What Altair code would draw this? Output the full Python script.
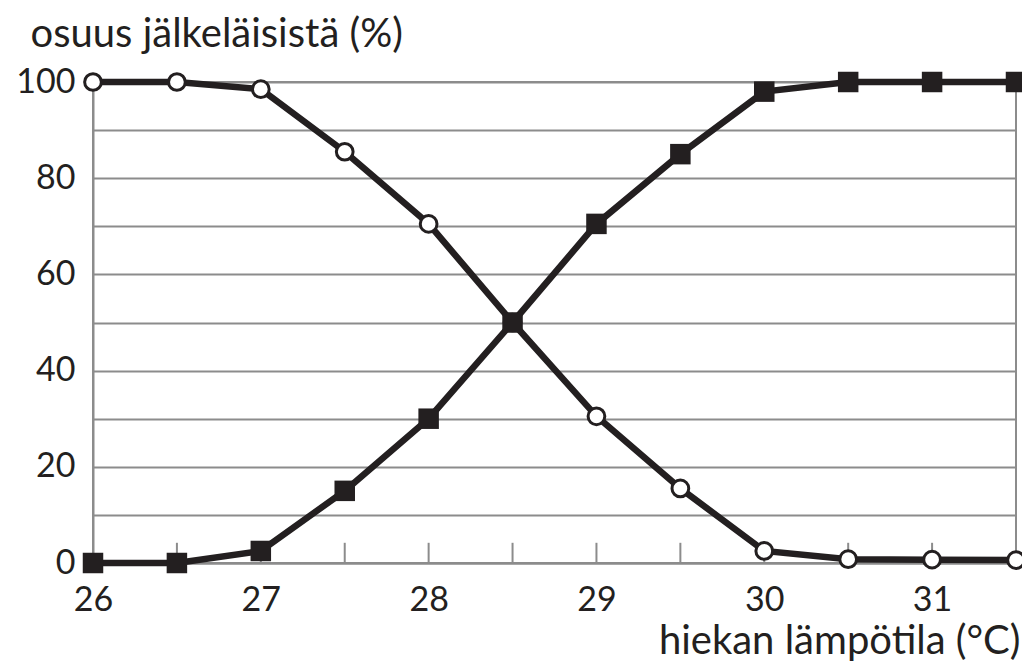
import altair as alt
import pandas as pd

# --- data ---
temps = [26, 26.5, 27, 27.5, 28, 28.5, 29, 29.5, 30, 30.5, 31, 31.5]
share_circles = [100, 100, 98.5, 85.5, 70.5, 50, 30.5, 15.5, 2.5, 0.8, 0.7, 0.6]
share_squares = [0, 0, 2.5, 15, 30, 50, 70.5, 85, 98, 100, 100, 100]
x_label_values = [26, 27, 28, 29, 30, 31]
x_minor_ticks = [26.5, 27, 27.5, 28, 28.5, 29, 29.5, 30, 30.5, 31, 31.5]
y_grid_values = [0, 10, 20, 30, 40, 50, 60, 70, 80, 90, 100]

FONT = "Lato"
INK = "#231f20"
GRID = "#8c8c8c"

df = pd.DataFrame({
    "t": temps + temps,
    "v": share_circles + share_squares,
    "s": ["ympyrä"] * len(temps) + ["neliö"] * len(temps),
})
ticks_df = pd.DataFrame({"t": x_minor_ticks, "v": [0] * len(x_minor_ticks), "v2": [4.2] * len(x_minor_ticks)})

xscale = alt.Scale(domain=[26, 31.5], nice=False, zero=False)
yscale = alt.Scale(domain=[0, 100], nice=False)

x_axis = alt.Axis(
    values=x_label_values, grid=False, ticks=False,
    domainColor=GRID, domainWidth=2,
    labelFont=FONT, labelFontSize=34, labelColor=INK, labelPadding=20,
    labelFlush=False,
    titleFont=FONT, titleFontSize=40,
    titleFontWeight="normal", titleColor=INK,
    titleX=927, titleY=90, titleAlign="right", titleBaseline="alphabetic",
)
y_axis = alt.Axis(
    values=y_grid_values, grid=True, gridColor=GRID, gridWidth=2,
    ticks=False, domainColor=GRID, domainWidth=2,
    labelExpr="datum.value % 20 == 0 ? datum.label : ''",
    labelFont=FONT, labelFontSize=34, labelColor=INK, labelPadding=18,
    titleFont=FONT, titleFontSize=40,
    titleFontWeight="normal", titleColor=INK, titleAngle=0,
    titleX=-63, titleY=-36, titleAlign="left", titleBaseline="alphabetic",
)

X = alt.X("t:Q", scale=xscale, axis=x_axis, title="hiekan lämpötila (°C)")
Y = alt.Y("v:Q", scale=yscale, axis=y_axis, title="osuus jälkeläisistä (%)")

ticks = alt.Chart(ticks_df).mark_rule(color=GRID, strokeWidth=2).encode(
    x=X, y=Y, y2="v2:Q",
)

lines = alt.Chart(df).mark_line(color=INK, strokeWidth=6.5).encode(
    x=X, y=Y, detail="s:N",
)

circles = alt.Chart(df).transform_filter(alt.datum.s == "ympyrä").mark_point(
    shape="circle", size=280, filled=True, fill="white", stroke=INK,
    strokeWidth=3, opacity=1,
).encode(x=X, y=Y)

squares = alt.Chart(df).transform_filter(alt.datum.s == "neliö").mark_square(
    size=420, color=INK, opacity=1,
).encode(x=X, y=Y)

chart = alt.layer(ticks, lines, circles, squares).properties(
    width=923, height=481,
    autosize=alt.AutoSizeParams(type="none"),
    padding={"left": 85, "top": 74, "right": 6, "bottom": 98},
    background="white",
).configure_view(stroke=GRID, strokeWidth=2)

chart.save("out.html", embed_options={"renderer": "svg", "actions": False})
